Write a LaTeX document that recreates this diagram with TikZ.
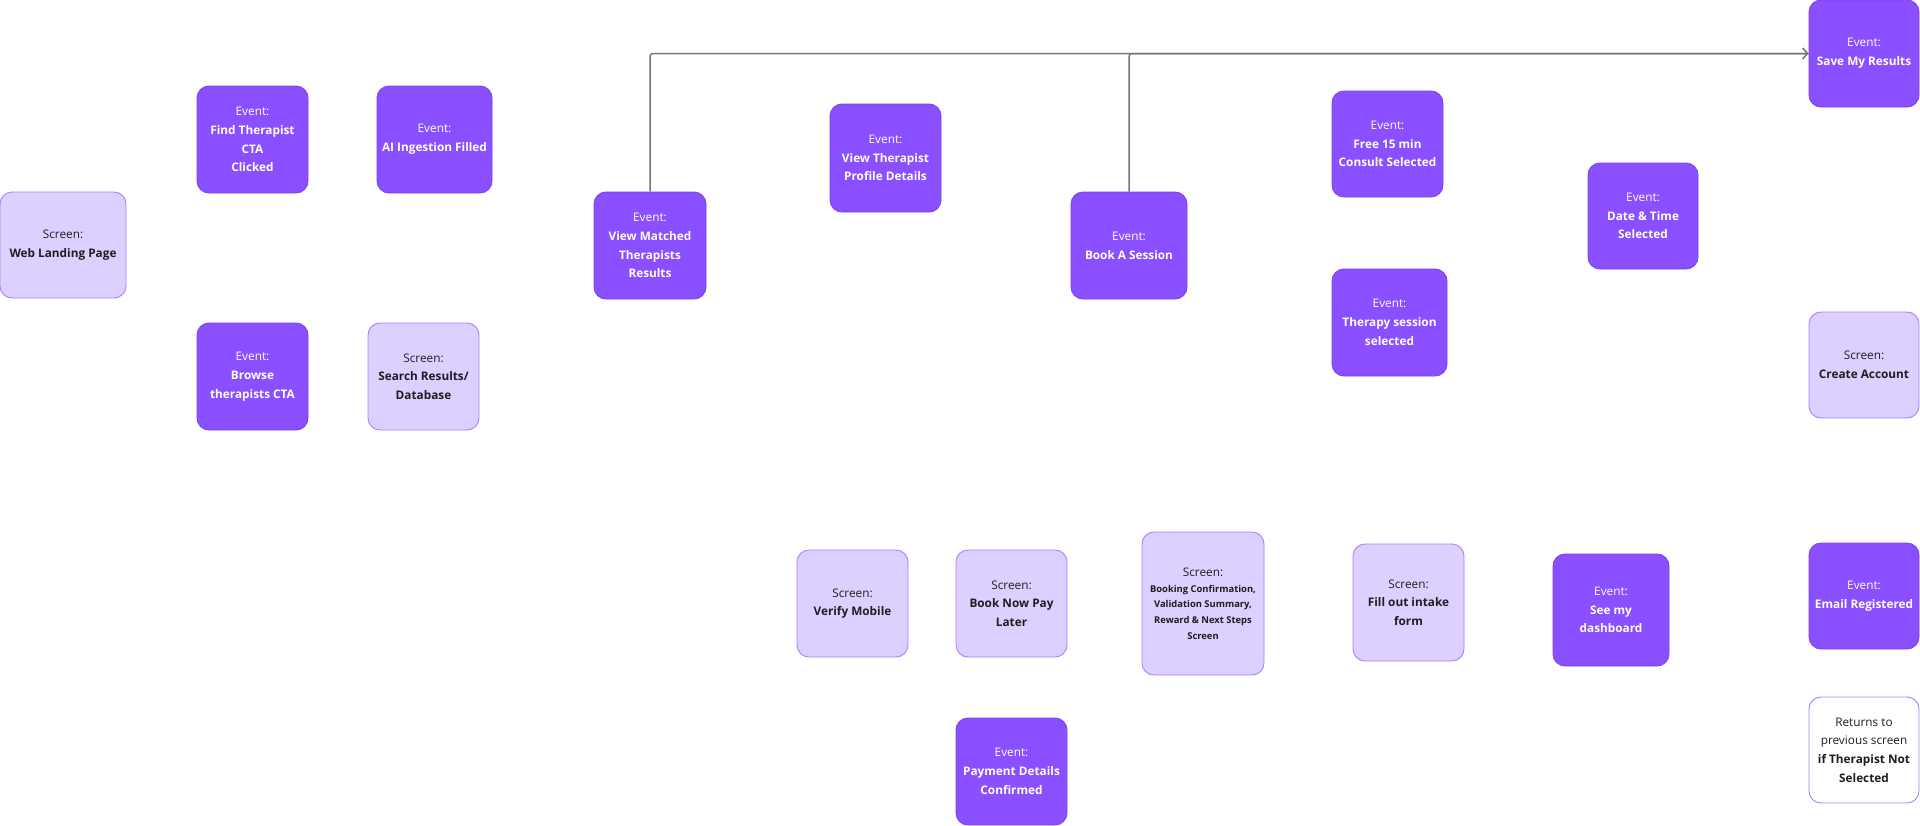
\documentclass[tikz,border=0pt]{standalone}
\usepackage{fontspec}
\setmainfont{Open Sans}
\usetikzlibrary{arrows.meta}
\definecolor{evfill}{HTML}{8A4FFF}
\definecolor{evdraw}{HTML}{7B42F0}
\definecolor{scfill}{HTML}{DDCFFF}
\definecolor{scdraw}{HTML}{A97FFB}
\definecolor{sctext}{HTML}{1E1E1E}
\definecolor{linegray}{HTML}{767676}
\newcommand\smallbold[1]{{\fontsize{9.4}{12}\selectfont\bfseries #1}}
\begin{document}
\begin{tikzpicture}[x=1pt,y=-1pt,
  box/.style={rounded corners=12pt, inner sep=0pt, align=center, line width=0.9pt,
    font=\fontsize{11.8}{18.7}\selectfont},
  event/.style={box, draw=evdraw, fill=evfill, text=white},
  screen/.style={box, draw=scdraw, fill=scfill, text=sctext},
  note/.style={box, draw=scdraw, fill=white, text=sctext},
  sz/.style 2 args={minimum width=#1pt, minimum height=#2pt},
  flow/.style={draw=linegray, line width=1.5pt, rounded corners=3pt},
  flowarrow/.style={flow, -{Straight Barb[length=5pt,width=11pt]}}
]
\useasboundingbox (0,0) rectangle (1920,825);

% left column
\node[screen, sz={126}{106}] (web) at (63,245) {Screen:\\\textbf{Web Landing Page}};
\node[event, sz={111}{107}] (find) at (252.5,139.5) {Event:\\\textbf{Find Therapist}\\\textbf{CTA}\\\textbf{Clicked}};
\node[event, sz={115}{107}] (ai) at (434.5,139.5) {Event:\\\textbf{AI Ingestion Filled}};
\node[event, sz={111}{107}] (browse) at (252.5,376.5) {Event:\\\textbf{Browse}\\\textbf{therapists CTA}};
\node[screen, sz={111}{107}] (search) at (423.5,376.5) {Screen:\\\textbf{Search Results/}\\\textbf{Database}};

% middle
\node[event, sz={112}{107}] (matched) at (650,245.5) {Event:\\\textbf{View Matched}\\\textbf{Therapists}\\\textbf{Results}};
\node[event, sz={111}{108}] (profile) at (885.5,158) {Event:\\\textbf{View Therapist}\\\textbf{Profile Details}};
\node[event, sz={116}{107}] (book) at (1129,245.5) {Event:\\\textbf{Book A Session}};
\node[event, sz={111}{106}] (free) at (1387.5,144) {Event:\\\textbf{Free 15 min}\\\textbf{Consult Selected}};
\node[event, sz={115}{107}] (therapy) at (1389.5,322.5) {Event:\\\textbf{Therapy session}\\\textbf{selected}};
\node[event, sz={110}{106}] (date) at (1643,216) {Event:\\\textbf{Date \& Time}\\\textbf{Selected}};

% right column
\node[event, sz={110}{107}] (save) at (1864,53.5) {Event:\\\textbf{Save My Results}};
\node[screen, sz={110}{106}] (create) at (1864,365) {Screen:\\\textbf{Create Account}};
\node[event, sz={110}{106}] (email) at (1864,596) {Event:\\\textbf{Email Registered}};
\node[note, sz={110}{106}] (returns) at (1864,750) {Returns to\\previous screen\\\textbf{if Therapist Not}\\\textbf{Selected}};

% bottom row
\node[screen, sz={111}{107}] (verify) at (852.5,603.5) {Screen:\\\textbf{Verify Mobile}};
\node[screen, sz={111}{107}] (bnpl) at (1011.5,603.5) {Screen:\\\textbf{Book Now Pay}\\\textbf{Later}};
\node[screen, sz={122}{143}] (confirm) at (1203,603.5) {Screen:\\[-3pt]\smallbold{Booking Confirmation,}\\[-3pt]\smallbold{Validation Summary,}\\[-3pt]\smallbold{Reward \& Next Steps}\\[-3pt]\smallbold{Screen}};
\node[event, sz={111}{107}] (payment) at (1011.5,771.5) {Event:\\\textbf{Payment Details}\\\textbf{Confirmed}};
\node[screen, sz={111}{117}] (intake) at (1408.5,602.5) {Screen:\\\textbf{Fill out intake}\\\textbf{form}};
\node[event, sz={116}{112}] (dash) at (1611,610) {Event:\\\textbf{See my}\\\textbf{dashboard}};

% connectors
\draw[flow] (book.north) |- (save.west);
\draw[flowarrow] (matched.north) |- (save.west);
\end{tikzpicture}
\end{document}
